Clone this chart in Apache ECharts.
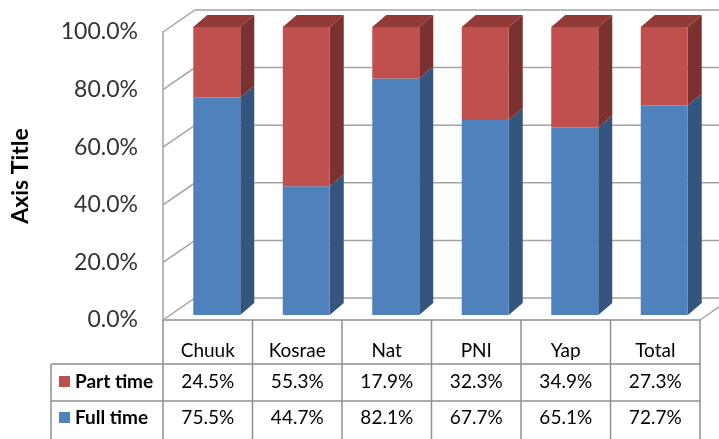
<!DOCTYPE html>
<html>
<head>
<meta charset="utf-8">
<script src="https://cdn.jsdelivr.net/npm/echarts@6/dist/echarts.min.js"></script>
<style>html,body{margin:0;padding:0;background:#fff;}#c{width:719px;height:439px;}</style>
</head>
<body>
<div id="c"></div>
<script>
const categories = ['Chuuk', 'Kosrae', 'Nat', 'PNI', 'Yap', 'Total'];
const partTime = [24.5, 55.3, 17.9, 32.3, 34.9, 27.3];
const fullTime = [75.5, 44.7, 82.1, 67.7, 65.1, 72.7];
const yTicks = [0, 20, 40, 60, 80, 100];
const seriesNames = ['Part time', 'Full time'];

const FONT = 'Lato, "Open Sans", sans-serif';
const GRID_COLOR = '#a3a3a3';
const TABLE_COLOR = '#8f8f8f';
const WALL_DX = 32, WALL_DY = -22;
const BAR_DX = 14, BAR_DY = -12;

function barRender(front, side, top, drawTop) {
  return function (params, api) {
    const i = api.value(0), a = api.value(1), b = api.value(2);
    const c0 = api.coord([i, a]);
    const c1 = api.coord([i, b]);
    const band = api.size([1, 0])[0];
    const w = band * 0.525;
    const x0 = c0[0] + 9 - w / 2, x1 = x0 + w;
    const yb = c0[1] - 5, yt = c1[1] - 5;
    const children = [
      { type: 'polygon', shape: { points: [[x1, yb], [x1 + BAR_DX, yb + BAR_DY], [x1 + BAR_DX, yt + BAR_DY], [x1, yt]] }, style: { fill: side } },
      { type: 'rect', shape: { x: x0, y: yt, width: w, height: yb - yt }, style: { fill: front } }
    ];
    if (drawTop) {
      children.push({ type: 'polygon', shape: { points: [[x0, yt], [x0 + BAR_DX, yt + BAR_DY], [x1 + BAR_DX, yt + BAR_DY], [x1, yt]] }, style: { fill: top } });
    }
    return { type: 'group', children: children };
  };
}

function wallRender(params, api) {
  const cs = params.coordSys;
  const v = api.value(0);
  const y = api.coord([0, v])[1];
  const x0 = cs.x;
  const children = [
    { type: 'polyline', shape: { points: [[x0, y], [x0 + WALL_DX, y + WALL_DY], [x0 + cs.width + 80, y + WALL_DY]] }, style: { stroke: GRID_COLOR, lineWidth: 1.5, fill: null } }
  ];
  if (v === 0) {
    children.push({ type: 'line', shape: { x1: x0 + cs.width, y1: y, x2: x0 + cs.width + WALL_DX, y2: y + WALL_DY }, style: { stroke: GRID_COLOR, lineWidth: 1.5 } });
  }
  return { type: 'group', children: children };
}

function tableRender(params, api) {
  const cs = params.coordSys;
  const i = api.value(0);
  const cx = api.coord([i, 0])[0];
  const band = api.size([1, 0])[0];
  const left = cx - band / 2, right = cx + band / 2;
  const yTop = cs.y + cs.height;
  const r1 = yTop + 44, r2 = yTop + 81, yEnd = yTop + 140;
  const ls = { stroke: TABLE_COLOR, lineWidth: 1.5 };
  const ts = (t, y) => ({ type: 'text', style: { text: t, x: cx, y: y, align: 'center', verticalAlign: 'middle', font: '19px ' + FONT, fill: '#000' } });
  const children = [
    { type: 'line', shape: { x1: right, y1: yTop, x2: right, y2: yEnd }, style: ls },
    { type: 'line', shape: { x1: left, y1: r1, x2: right, y2: r1 }, style: ls },
    { type: 'line', shape: { x1: left, y1: r2, x2: right, y2: r2 }, style: ls },
    ts(api.value(1).toFixed(1) + '%', yTop + 62),
    ts(api.value(2).toFixed(1) + '%', yTop + 98)
  ];
  if (i === 0) {
    const lx = left - 112;
    children.push(
      { type: 'line', shape: { x1: left, y1: yTop, x2: left, y2: yEnd }, style: ls },
      { type: 'line', shape: { x1: lx, y1: r1, x2: left, y2: r1 }, style: ls },
      { type: 'line', shape: { x1: lx, y1: r2, x2: left, y2: r2 }, style: ls },
      { type: 'line', shape: { x1: lx, y1: r1, x2: lx, y2: yEnd }, style: ls },
      { type: 'rect', shape: { x: lx + 8, y: yTop + 56, width: 11, height: 11 }, style: { fill: '#C0504D' } },
      { type: 'rect', shape: { x: lx + 8, y: yTop + 92, width: 11, height: 11 }, style: { fill: '#4F81BD' } },
      { type: 'text', style: { text: seriesNames[0], x: lx + 24, y: yTop + 62, align: 'left', verticalAlign: 'middle', font: 'bold 19px ' + FONT, fill: '#000' } },
      { type: 'text', style: { text: seriesNames[1], x: lx + 24, y: yTop + 98, align: 'left', verticalAlign: 'middle', font: 'bold 19px ' + FONT, fill: '#000' } }
    );
  }
  return { type: 'group', children: children };
}

const chart = echarts.init(document.getElementById('c'), null, { renderer: 'canvas' });
chart.setOption({
  animation: false,
  grid: { left: 163, right: 19, top: 32, bottom: 119, containLabel: false, outerBoundsMode: 'none' },
  xAxis: {
    type: 'category',
    data: categories,
    axisLine: { show: true, lineStyle: { color: TABLE_COLOR, width: 1.5 } },
    axisTick: { show: false },
    axisLabel: { margin: 21, fontSize: 19, fontFamily: FONT, color: '#000' },
    splitLine: { show: false }
  },
  yAxis: {
    type: 'value',
    min: 0, max: 100, interval: 20,
    name: 'Axis Title',
    nameLocation: 'middle',
    nameRotate: 90,
    nameGap: 131,
    nameTextStyle: { fontSize: 23, fontWeight: 'bold', fontFamily: FONT, color: '#000' },
    axisLine: { show: true, lineStyle: { color: GRID_COLOR, width: 1.5 } },
    axisTick: { show: false },
    splitLine: { show: false },
    axisLabel: { margin: 25, fontSize: 23, fontFamily: FONT, color: '#333', padding: [4, 0, 0, 0], formatter: v => v.toFixed(1) + '%' }
  },
  series: [
    { type: 'custom', name: 'walls', renderItem: wallRender, data: yTicks.map(v => [v]), clip: false, silent: true, z: 1 },
    { type: 'custom', name: seriesNames[1], renderItem: barRender('#4F81BD', '#34557E', '#3F6A9E', false),
      data: categories.map((c, i) => [i, 0, fullTime[i]]), clip: false, z: 2 },
    { type: 'custom', name: seriesNames[0], renderItem: barRender('#C0504D', '#7B3130', '#923A38', true),
      data: categories.map((c, i) => [i, fullTime[i], fullTime[i] + partTime[i]]), clip: false, z: 3 },
    { type: 'custom', name: 'table', renderItem: tableRender,
      data: categories.map((c, i) => [i, partTime[i], fullTime[i]]), clip: false, silent: true, z: 4 }
  ]
});
</script>
</body>
</html>
